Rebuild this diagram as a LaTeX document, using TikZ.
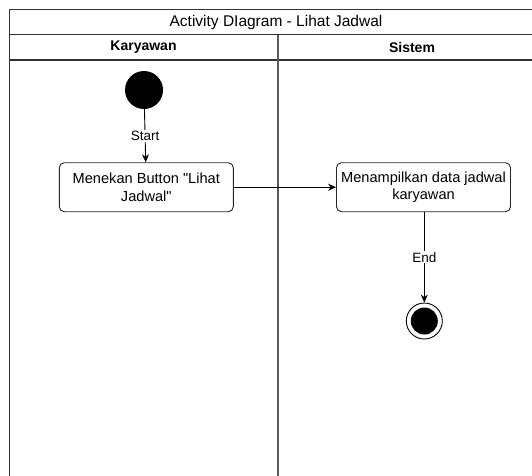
\documentclass[tikz,border=0pt]{standalone}
\usepackage{fontspec}
\setmainfont{Liberation Sans}[Ligatures=TeXOff]
\usetikzlibrary{arrows.meta}
\begin{document}
\begin{tikzpicture}[x=1pt,y=-1pt,
  frameline/.style={draw=black!80,line width=1.1pt},
  actbox/.style={draw=black!85,line width=0.9pt,rounded corners=5pt,minimum width=174pt,minimum height=49pt,align=center,font=\fontsize{14.6}{17.7}\selectfont,inner sep=1pt},
  flow/.style={draw=black,line width=0.9pt,-{Stealth[length=8pt,width=7pt]}},
  lbl/.style={fill=white,inner sep=1pt,font=\fontsize{13.5}{16}\selectfont},
  lanehead/.style={font=\bfseries\fontsize{14}{16}\selectfont},
  titletext/.style={font=\fontsize{15.5}{18}\selectfont}
]
\useasboundingbox (0,0) rectangle (532,475);
\fill[white] (0,0) rectangle (532,475);
% frame
\draw[frameline] (547,9.5) -- (9.5,9.5) -- (9.5,490);
\draw[frameline] (9.5,34.5) -- (547,34.5);
\draw[frameline] (9.5,60) -- (547,60);
\draw[frameline,draw=black!65,line width=1.3pt] (278,34.5) -- (278,490);
\node[titletext] (title) at (276,22) {Activity DIagram - Lihat Jadwal};
\node[lanehead] (lane1) at (143.5,47.5) {Karyawan};
\node[lanehead] (lane2) at (412,47.5) {Sistem};
% nodes
\node[circle,fill=black,minimum size=38pt,inner sep=0pt] (start) at (144,90) {};
\node[actbox] (a1) at (146.3,187.2) {Menekan Button "Lihat\\Jadwal"};
\node[actbox] (a2) at (423.5,187.2) {Menampilkan data jadwal\\karyawan};
\node[circle,draw=black,line width=0.9pt,fill=white,minimum size=36pt,inner sep=0pt] (end) at (424.3,321) {};
\node[circle,fill=black,minimum size=27pt,inner sep=0pt] at (end.center) {};
% connectors
\draw[flow] (start) -- node[lbl] (startlbl) {Start} (a1);
\draw[flow] (a1) -- (a2);
\draw[flow] (a2.south -| end) -- node[lbl,pos=0.5] (endlbl) {End} (end);
\end{tikzpicture}
\end{document}
